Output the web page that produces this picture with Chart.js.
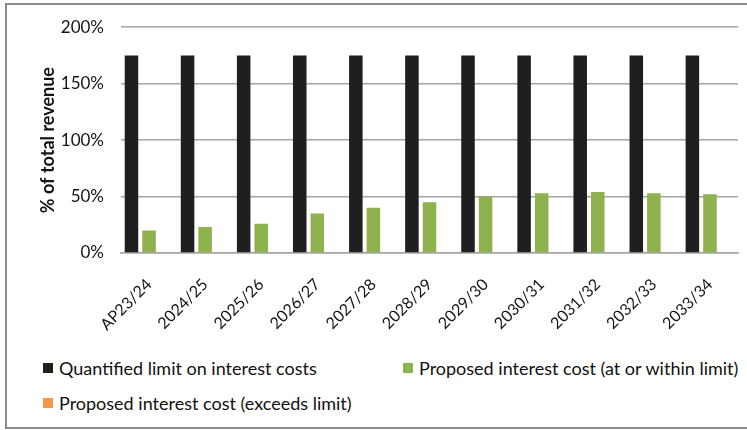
<!DOCTYPE html>
<html>
<head>
<meta charset="utf-8">
<script src="https://cdn.jsdelivr.net/npm/chart.js@4"></script>
<style>
    body { margin: 0; background: #fff; font-family: Lato, 'Liberation Sans', sans-serif; }
    #wrap { position: relative; width: 747px; height: 430px; overflow: hidden; }
    #frame { position: absolute; left: 5px; top: 3px; width: 760px; height: 426px; border: 2px solid #8c8c8c; box-sizing: border-box; }
    #chartBox { position: absolute; left: 0; top: 0; width: 747px; height: 340px; }
    #legend { position: absolute; left: 43px; top: 357px; width: 700px; font-size: 18px; color: #111; }
    .item { position: absolute; white-space: nowrap; display: flex; align-items: center; }
    .swatch { width: 10px; height: 10px; margin-right: 6px; }
</style>
</head>
<body>
<div id="wrap">
    <div id="frame"></div>
    <div id="chartBox"><canvas id="interestChart"></canvas></div>
    <div id="legend"></div>
</div>
<script>
const years = ['AP23/24', '2024/25', '2025/26', '2026/27', '2027/28', '2028/29',
               '2029/30', '2030/31', '2031/32', '2032/33', '2033/34'];
const limitPct = [175, 175, 175, 175, 175, 175, 175, 175, 175, 175, 175];
const withinLimitPct = [20, 23, 26, 35, 40, 45, 50, 53, 54, 53, 52];
const exceedsLimitPct = [0, 0, 0, 0, 0, 0, 0, 0, 0, 0, 0];
const yTicks = [0, 50, 100, 150, 200];

// legend item offsets (two columns, wrapping)
const legendSpots = [[0, 0], [360, 0], [0, 35]];

const ctx = document.getElementById('interestChart').getContext('2d');
const textColor = '#141414';
const gridColor = '#a8a4a0';

const interestChart = new Chart(ctx, {
    type: 'bar',
    data: {
        labels: years,
        datasets: [
            {
                label: 'Quantified limit on interest costs',
                data: limitPct,
                backgroundColor: '#1f1f1f'
            },
            {
                label: 'Proposed interest cost (at or within limit)',
                data: withinLimitPct,
                backgroundColor: '#8db24e'
            },
            {
                label: 'Proposed interest cost (exceeds limit)',
                data: exceedsLimitPct,
                backgroundColor: '#f79646'
            }
        ]
    },
    options: {
        responsive: true,
        maintainAspectRatio: false,
        animation: false,
        layout: { padding: { top: 25, right: 9, left: 0, bottom: 0 } },
        datasets: { bar: { categoryPercentage: 0.94, barPercentage: 0.77 } },
        scales: {
            x: {
                grid: { display: false },
                border: { color: gridColor, width: 1.5 },
                ticks: {
                    color: textColor,
                    padding: 14,
                    font: { family: 'Lato', size: 16 },
                    minRotation: 45, maxRotation: 45,
                    autoSkip: false
                },
                afterFit: scale => { scale.height = 87; }
            },
            y: {
                min: 0,
                max: 200,
                afterBuildTicks: scale => { scale.ticks = yTicks.map(v => ({ value: v })); },
                grid: { color: gridColor, lineWidth: 1.5, drawTicks: false },
                border: { display: false },
                ticks: {
                    color: textColor,
                    padding: 17,
                    font: { family: 'Lato', size: 17 },
                    callback: v => v + '%'
                },
                title: {
                    display: true,
                    text: '% of total revenue',
                    color: textColor,
                    font: { family: 'Lato', size: 18, weight: 'bold' },
                    padding: { top: 37, bottom: 0 }
                },
                afterFit: scale => { scale.width = 121; }
            }
        },
        plugins: {
            legend: { display: false },
            tooltip: { enabled: false }
        }
    }
});

function renderLegend() {
    const box = document.getElementById('legend');
    interestChart.data.datasets.forEach((ds, i) => {
        const item = document.createElement('div');
        item.className = 'item';
        item.style.left = legendSpots[i][0] + 'px';
        item.style.top = legendSpots[i][1] + 'px';
        const sw = document.createElement('span');
        sw.className = 'swatch';
        sw.style.background = ds.backgroundColor;
        const txt = document.createElement('span');
        txt.textContent = ds.label;
        item.appendChild(sw);
        item.appendChild(txt);
        box.appendChild(item);
    });
}

renderLegend();
</script>
</body>
</html>
